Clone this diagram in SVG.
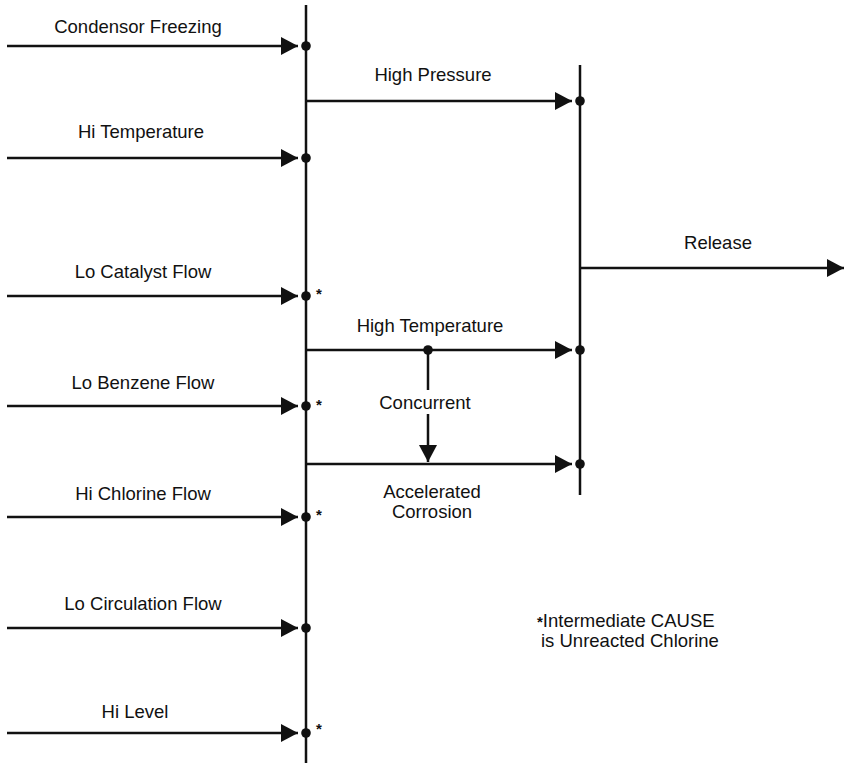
<svg xmlns="http://www.w3.org/2000/svg" width="844" height="763" viewBox="0 0 844 763">
<style>
.ln{stroke:#111;stroke-width:2.5;fill:none}
.dot{fill:#111}
text{font-family:"Liberation Sans",Arial,Helvetica,sans-serif;font-size:18.5px;fill:#111}
.c{text-anchor:middle}
.star{font-size:15px;font-weight:bold}
</style>
<defs>
<marker id="ah" markerUnits="userSpaceOnUse" markerWidth="19" markerHeight="18" refX="17" refY="9" orient="auto">
<path d="M0,0 L17,9 L0,18 Z" fill="#111"/>
</marker>
</defs>
<g id="connectors">
<line class="ln" x1="306" y1="5" x2="306" y2="763"/>
<line class="ln" x1="580" y1="65" x2="580" y2="495"/>
<line class="ln" x1="7" y1="46" x2="298" y2="46" marker-end="url(#ah)"/>
<line class="ln" x1="7" y1="158" x2="298" y2="158" marker-end="url(#ah)"/>
<line class="ln" x1="7" y1="296" x2="298" y2="296" marker-end="url(#ah)"/>
<line class="ln" x1="7" y1="406" x2="298" y2="406" marker-end="url(#ah)"/>
<line class="ln" x1="7" y1="517" x2="298" y2="517" marker-end="url(#ah)"/>
<line class="ln" x1="7" y1="628" x2="298" y2="628" marker-end="url(#ah)"/>
<line class="ln" x1="7" y1="733" x2="298" y2="733" marker-end="url(#ah)"/>
<line class="ln" x1="306" y1="101" x2="572" y2="101" marker-end="url(#ah)"/>
<line class="ln" x1="306" y1="350" x2="572" y2="350" marker-end="url(#ah)"/>
<line class="ln" x1="306" y1="464" x2="572" y2="464" marker-end="url(#ah)"/>
<line class="ln" x1="580" y1="268" x2="844" y2="268" marker-end="url(#ah)"/>
<line class="ln" x1="428" y1="350" x2="428" y2="390"/>
<line class="ln" x1="428" y1="414" x2="428" y2="462" marker-end="url(#ah)"/>
</g>
<g id="dots">
<circle class="dot" cx="306" cy="46" r="4.8"/>
<circle class="dot" cx="306" cy="158" r="4.8"/>
<circle class="dot" cx="306" cy="296" r="4.8"/>
<circle class="dot" cx="306" cy="406" r="4.8"/>
<circle class="dot" cx="306" cy="517" r="4.8"/>
<circle class="dot" cx="306" cy="628" r="4.8"/>
<circle class="dot" cx="306" cy="733" r="4.8"/>
<circle class="dot" cx="580" cy="101" r="4.8"/>
<circle class="dot" cx="580" cy="350" r="4.8"/>
<circle class="dot" cx="580" cy="464" r="4.8"/>
<circle class="dot" cx="428" cy="350" r="4.8"/>
</g>
<g id="n-condensor"><text class="c" x="138" y="33">Condensor Freezing</text></g>
<g id="n-hitemp"><text class="c" x="141" y="138">Hi Temperature</text></g>
<g id="n-locat"><text class="c" x="143" y="278">Lo Catalyst Flow</text><text class="star" x="316" y="299">*</text></g>
<g id="n-lobenz"><text class="c" x="143" y="389">Lo Benzene Flow</text><text class="star" x="316" y="410">*</text></g>
<g id="n-hichl"><text class="c" x="143" y="500">Hi Chlorine Flow</text><text class="star" x="316" y="520">*</text></g>
<g id="n-locirc"><text class="c" x="143" y="610">Lo Circulation Flow</text></g>
<g id="n-hilevel"><text class="c" x="135" y="718">Hi Level</text><text class="star" x="316" y="734">*</text></g>
<g id="n-highpress"><text class="c" x="433" y="81">High Pressure</text></g>
<g id="n-hightemp"><text class="c" x="430" y="332">High Temperature</text></g>
<g id="n-concurrent"><text class="c" x="425" y="409">Concurrent</text></g>
<g id="n-corrosion"><text class="c" x="432" y="498">Accelerated</text><text class="c" x="432" y="518">Corrosion</text></g>
<g id="n-release"><text class="c" x="718" y="249">Release</text></g>
<g id="n-note"><text x="537" y="627"><tspan font-size="15" font-weight="bold">*</tspan>Intermediate CAUSE</text><text x="541" y="647">is Unreacted Chlorine</text></g>
</svg>
